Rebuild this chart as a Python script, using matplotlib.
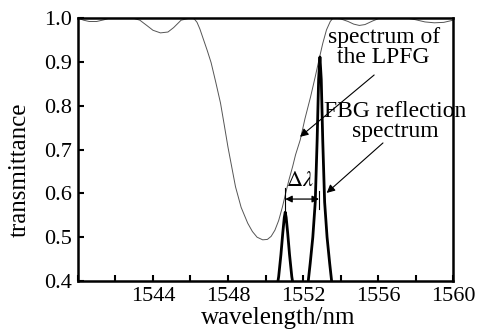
import numpy as np
import matplotlib
matplotlib.use("Agg")
import matplotlib.pyplot as plt
from matplotlib.ticker import MultipleLocator, FixedLocator, FormatStrFormatter

plt.rcParams.update({"font.family": "Liberation Serif", "mathtext.fontset": "stix"})

# espectro del LPFG (transmitancia)
lpfg_wl = [1540.0, 1540.3, 1540.6, 1541.0, 1541.4, 1541.7, 1542.9, 1543.3, 1543.7, 1544.0,
           1544.4, 1544.8, 1545.1, 1545.5, 1546.0, 1546.2, 1546.35, 1546.5, 1546.7, 1546.9,
           1547.1, 1547.35, 1547.6, 1547.8, 1548.0, 1548.2, 1548.4, 1548.7, 1549.05, 1549.3,
           1549.55, 1549.85, 1550.1, 1550.3, 1550.5, 1550.7, 1550.9, 1551.1, 1551.25, 1551.45,
           1551.6, 1551.85, 1552.1, 1552.4, 1552.65, 1552.85, 1553.05, 1553.25, 1553.45, 1553.6,
           1554.0, 1554.4, 1554.7, 1555.0, 1555.3, 1555.7, 1556.1, 1557.5, 1558.0, 1558.5,
           1559.0, 1559.5, 1560.0]
lpfg_t = [1.000, 0.995, 0.992, 0.992, 0.996, 1.000, 1.000, 0.995, 0.982, 0.972,
          0.966, 0.968, 0.978, 0.995, 1.000, 0.998, 0.990, 0.975, 0.950, 0.925,
          0.898, 0.853, 0.806, 0.756, 0.705, 0.660, 0.615, 0.568, 0.532, 0.513,
          0.500, 0.494, 0.495, 0.502, 0.516, 0.538, 0.569, 0.605, 0.631, 0.662,
          0.688, 0.722, 0.770, 0.820, 0.866, 0.905, 0.942, 0.973, 0.992, 1.000,
          0.998, 0.992, 0.986, 0.983, 0.985, 0.993, 1.000, 1.000, 0.996, 0.991,
          0.989, 0.990, 0.995]

# picos del FBG (reflexion)
fbg1_wl = [1550.55, 1550.7, 1550.82, 1550.92, 1551.0, 1551.05, 1551.1, 1551.18, 1551.28, 1551.4, 1551.55]
fbg1_t = [0.37, 0.41, 0.46, 0.51, 0.545, 0.557, 0.545, 0.51, 0.46, 0.41, 0.37]
fbg2_wl = [1552.2, 1552.38, 1552.52, 1552.65, 1552.75, 1552.83, 1552.9, 1552.97, 1553.05, 1553.15, 1553.28, 1553.42, 1553.6]
fbg2_t = [0.37, 0.44, 0.50, 0.58, 0.72, 0.86, 0.911, 0.86, 0.72, 0.58, 0.50, 0.44, 0.37]

fig = plt.figure(figsize=(4.78, 3.33), dpi=100)
ax = fig.add_axes([0.163, 0.156, 0.785, 0.790])

ax.plot(lpfg_wl, lpfg_t, color="#555555", lw=0.7)
ax.plot(fbg1_wl, fbg1_t, color="black", lw=2.0)
ax.plot(fbg2_wl, fbg2_t, color="black", lw=2.0)

ax.set_xlim(1540, 1560)
ax.set_ylim(0.4, 1.0)
ax.xaxis.set_major_locator(FixedLocator([1544, 1548, 1552, 1556, 1560]))
ax.xaxis.set_minor_locator(MultipleLocator(2))
ax.yaxis.set_major_locator(MultipleLocator(0.1))
ax.yaxis.set_major_formatter(FormatStrFormatter("%.1f"))
ax.tick_params(which="both", direction="in", length=4, width=1.5, labelsize=16,
               top=False, right=False, pad=4)
for sp in ax.spines.values():
    sp.set_linewidth(1.8)

ax.set_xlabel("wavelength/nm", fontsize=18)
ax.set_ylabel("transmittance", fontsize=18)
ax.xaxis.set_label_coords(0.533, -0.1)
ax.yaxis.set_label_coords(-0.125, 0.422)

# delta lambda
y_dl = 0.587
ax.plot([1551.05, 1551.05], [0.557, 0.612], color="black", lw=0.8)
ax.plot([1552.85, 1552.85], [0.565, 0.605], color="black", lw=0.8)
ax.annotate("", xy=(1551.05, y_dl), xytext=(1552.85, y_dl),
            arrowprops=dict(arrowstyle="<|-|>", color="black", lw=0.9,
                            mutation_scale=10, shrinkA=0, shrinkB=0))
ax.text(1551.85, 0.626, r"$\Delta\lambda$", fontsize=16, ha="center", va="center")

ax.text(1556.3, 0.932, "spectrum of\nthe LPFG", fontsize=17, ha="center", va="center",
        linespacing=0.95)
ax.text(1556.9, 0.763, "FBG reflection\nspectrum", fontsize=17, ha="center", va="center",
        linespacing=0.95, clip_on=False)
ax.annotate("", xy=(1551.84, 0.729), xytext=(1555.79, 0.870),
            arrowprops=dict(arrowstyle="-|>", color="black", lw=0.8,
                            mutation_scale=12, shrinkA=0, shrinkB=0))
ax.annotate("", xy=(1553.26, 0.601), xytext=(1556.26, 0.715),
            arrowprops=dict(arrowstyle="-|>", color="black", lw=0.8,
                            mutation_scale=12, shrinkA=0, shrinkB=0))

fig.savefig("out.png", dpi=100, facecolor="white")
